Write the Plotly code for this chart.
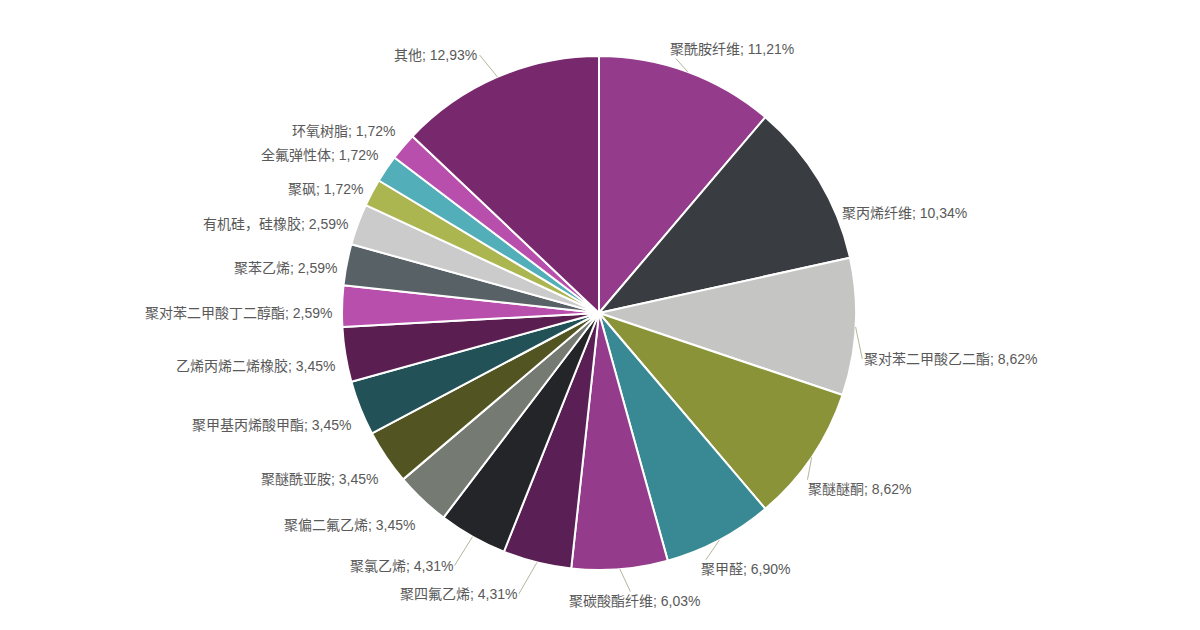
import math
import plotly.graph_objects as go

categories = ["聚酰胺纤维", "聚丙烯纤维", "聚对苯二甲酸乙二酯", "聚醚醚酮", "聚甲醛",
              "聚碳酸酯纤维", "聚四氟乙烯", "聚氯乙烯", "聚偏二氟乙烯", "聚醚酰亚胺",
              "聚甲基丙烯酸甲酯", "乙烯丙烯二烯橡胶", "聚对苯二甲酸丁二醇酯", "聚苯乙烯",
              "有机硅，硅橡胶", "聚砜", "全氟弹性体", "环氧树脂", "其他"]
counts = [13, 12, 10, 10, 8, 7, 5, 5, 4, 4, 4, 4, 3, 3, 3, 2, 2, 2, 15]
colors = ["#943b8b", "#393d41", "#c5c6c4", "#8a9338", "#398994", "#943b8b", "#5a2055",
          "#232528", "#757b72", "#525521", "#225157", "#5a1f50", "#b94fac", "#586166",
          "#cbcbcb", "#acb651", "#52aeb8", "#b94fac", "#78286c"]

W, H = 1200, 630
# page body has an 8px margin, so the figure origin sits at (8, 8) in the window
cx, cy, R = 591, 305, 257

total = sum(counts)
pcts = [c / total * 100 for c in counts]
labels = [f"{n}; {p:.2f}%".replace(".", ",") for n, p in zip(categories, pcts)]

fig = go.Figure(go.Pie(
    labels=categories, values=counts, sort=False, direction="clockwise", rotation=0,
    marker=dict(colors=colors, line=dict(color="white", width=2)),
    textinfo="none", hoverinfo="skip", showlegend=False,
    domain=dict(x=[(cx - R) / W, (cx + R) / W], y=[(H - cy - R) / H, (H - cy + R) / H]),
))

label_font = dict(size=14, color="#595959", family="Liberation Sans, Arial, Noto Sans CJK SC")
annotations = []
cum = 0.0
for lab, c in zip(labels, counts):
    mid = (cum + c / 2) / total
    cum += c
    th = 2 * math.pi * mid
    s, co = math.sin(th), math.cos(th)
    px = cx + R * s
    py = cy - R * co
    if s > 0.8:
        oy = 32
        ox = 8 + 25 * co
        xa = "left"
    else:
        oy = -24 * co + (8 if co < 0.5 else 0)
        if abs(co) > 0.85:
            if s > 0.1:
                xa, ox = "left", -20
            elif s < -0.1:
                xa, ox = "right", -18
            else:
                xa, ox = "center", 15
        else:
            ox = 8 * s
            xa = "left" if s > 0 else "right"
    arrow = abs(co) > 0.85 or (s > 0.8 and co < 0.3)
    base = dict(x=px / W, y=1 - py / H, xref="paper", yref="paper", text=lab,
                xanchor=xa, yanchor="middle", font=label_font)
    if arrow:
        base.update(showarrow=True, ax=ox, ay=oy, axref="pixel", ayref="pixel",
                    arrowhead=0, arrowwidth=1, arrowcolor="#b5b59a")
    else:
        base.update(showarrow=False, xshift=ox, yshift=-oy)
    annotations.append(base)

fig.update_layout(
    width=W, height=H, margin=dict(l=0, r=0, t=0, b=0),
    paper_bgcolor="white", plot_bgcolor="white",
    annotations=annotations,
    font=dict(family="Liberation Sans, Arial, Noto Sans CJK SC"),
)
fig.write_html("out.html")
